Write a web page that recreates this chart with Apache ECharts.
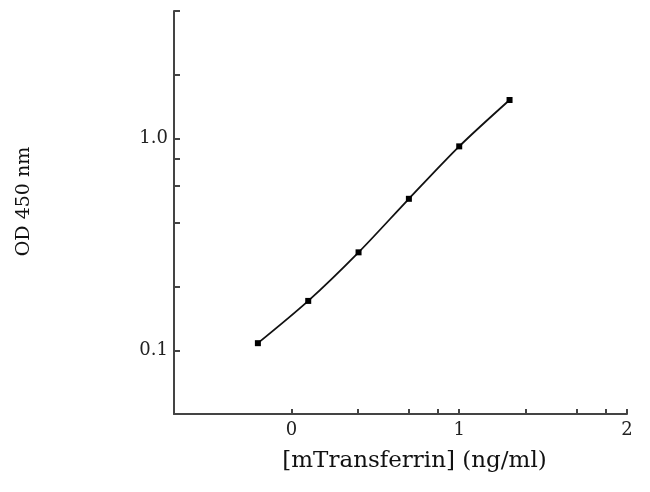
<!DOCTYPE html>
<html><head><meta charset="utf-8">
<script src="https://cdn.jsdelivr.net/npm/echarts@6/dist/echarts.min.js"></script>
<style>html,body{margin:0;padding:0;background:#fff}#c{width:650px;height:492px}</style>
</head><body><div id="c"></div>
<script>
var xValues = [-0.2, 0.1, 0.4, 0.7, 1.0, 1.3];
var odValues = [0.108, 0.171, 0.290, 0.519, 0.918, 1.52];
var xTickValues = [0, 0.398, 0.699, 0.875, 1, 1.398, 1.699, 1.875, 2];
var xLabelValues = [0, 1, 2];
var yTickValues = [0.1, 0.2, 0.4, 0.6, 0.8, 1, 2, 4];
var yLabelValues = [0.1, 1];
var yLabelText = {"0.1": "0.1", "1": "1.0"};

var chart = echarts.init(document.getElementById('c'));
var font = 'DejaVu Serif';
chart.setOption({
  animation: false,
  backgroundColor: '#fff',
  grid: {left: 174, right: 23, top: 11, bottom: 78},
  xAxis: {
    type: 'value', min: -0.7, max: 2,
    name: '[mTransferrin] (ng/ml)', nameLocation: 'middle', nameGap: 36,
    nameTextStyle: {fontFamily: font, fontSize: 23, color: '#111', padding: [0, 0, 0, 28]},
    axisLine: {show: true, onZero: false, lineStyle: {color: '#444', width: 2}},
    axisTick: {show: true, inside: true, length: 5, customValues: xTickValues, lineStyle: {color: '#444', width: 2}},
    axisLabel: {customValues: xLabelValues, fontFamily: font, fontSize: 18, color: '#222', margin: 7},
    splitLine: {show: false}
  },
  yAxis: {
    type: 'log', logBase: 10, min: 0.05, max: 4,
    name: 'OD 450 nm', nameLocation: 'middle', nameGap: 140, nameRotate: 90,
    nameTextStyle: {fontFamily: font, fontSize: 19, color: '#111', padding: [0, 0, 0, 22]},
    axisLine: {show: true, onZero: false, lineStyle: {color: '#444', width: 2}},
    axisTick: {show: true, inside: true, length: 6, customValues: yTickValues, lineStyle: {color: '#444', width: 2}},
    axisLabel: {customValues: yLabelValues, fontFamily: font, fontSize: 18, color: '#222', margin: 6,
      formatter: function (v) { return yLabelText[String(+v.toFixed(3))] || String(v); }},
    splitLine: {show: false}
  },
  series: [{
    type: 'line',
    data: xValues.map(function (x, i) { return [x, odValues[i]]; }),
    smooth: 0.3,
    symbol: 'rect', symbolSize: 6,
    itemStyle: {color: '#000'},
    lineStyle: {color: '#111', width: 1.8}
  }]
});
</script></body></html>
